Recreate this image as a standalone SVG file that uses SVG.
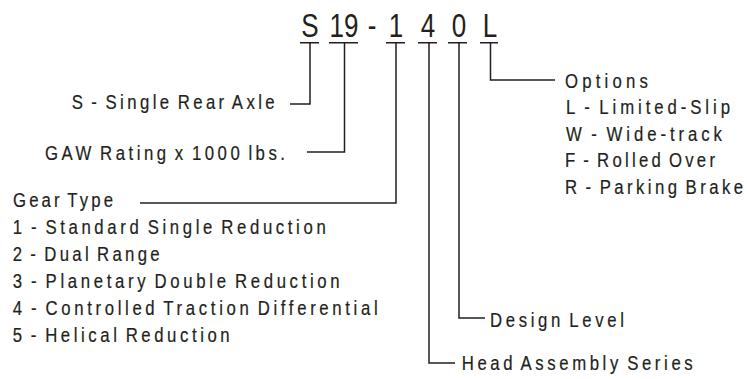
<svg xmlns="http://www.w3.org/2000/svg" width="747" height="379" viewBox="0 0 747 379">
<style>
text{font-family:"Liberation Sans",Arial,sans-serif;fill:#231f20;}
.code{font-size:32.5px;text-anchor:middle;}
.lbl{font-size:19.5px;word-spacing:-3.5px;stroke:#231f20;stroke-width:0.2;}
.ln{fill:none;stroke:#231f20;stroke-width:1.5;}
</style>
<rect width="747" height="379" fill="#fff"/>
<g id="code">
<text class="code" transform="translate(310,36.7) scale(0.8,1)">S</text>
<text class="code" transform="translate(344,36.7) scale(0.8,1)">19</text>
<text class="code" transform="translate(372,36.7) scale(0.8,1)">-</text>
<text class="code" transform="translate(396,36.7) scale(0.8,1)">1</text>
<text class="code" transform="translate(428,36.7) scale(0.8,1)">4</text>
<text class="code" transform="translate(459,36.7) scale(0.8,1)">0</text>
<text class="code" transform="translate(490,36.7) scale(0.8,1)">L</text>
<path class="ln" d="M300,42.7H319M329,42.7H358M386,42.7H405M418,42.7H437M448,42.7H467M480,42.7H498"/>
</g>
<g id="connectors">
<path class="ln" d="M310,42.7V104H290"/>
<path class="ln" d="M344.5,42.7V152H307"/>
<path class="ln" d="M396,42.7V203H140"/>
<path class="ln" d="M429,42.7V363H455"/>
<path class="ln" d="M459,42.7V318H485"/>
<path class="ln" d="M490.5,42.7V80H555"/>
</g>
<g id="axle"><text class="lbl" transform="translate(71.7,109) scale(0.86,1)" textLength="236">S - Single Rear Axle</text></g>
<g id="gaw"><text class="lbl" transform="translate(45,160) scale(0.86,1)" textLength="279.1">GAW Rating x 1000 lbs.</text></g>
<g id="gear">
<text class="lbl" transform="translate(13,207) scale(0.86,1)" textLength="116.3">Gear Type</text>
<text class="lbl" transform="translate(12.7,234) scale(0.86,1)" textLength="364">1 - Standard Single Reduction</text>
<text class="lbl" transform="translate(12.7,261) scale(0.86,1)" textLength="170.9">2 - Dual Range</text>
<text class="lbl" transform="translate(12.7,288) scale(0.86,1)" textLength="380.2">3 - Planetary Double Reduction</text>
<text class="lbl" transform="translate(12.7,315) scale(0.86,1)" textLength="424.4">4 - Controlled Traction Differential</text>
<text class="lbl" transform="translate(12.7,342) scale(0.86,1)" textLength="252.3">5 - Helical Reduction</text>
</g>
<g id="head"><text class="lbl" transform="translate(461.7,370) scale(0.86,1)" textLength="268.6">Head Assembly Series</text></g>
<g id="design"><text class="lbl" transform="translate(490,326.5) scale(0.86,1)" textLength="155.8">Design Level</text></g>
<g id="options">
<text class="lbl" transform="translate(565,88) scale(0.86,1)" textLength="96.5">Options</text>
<text class="lbl" transform="translate(566,114) scale(0.86,1)" textLength="190.7">L - Limited-Slip</text>
<text class="lbl" transform="translate(566,140.5) scale(0.86,1)" textLength="181.4">W - Wide-track</text>
<text class="lbl" transform="translate(565,167) scale(0.86,1)" textLength="174.4">F - Rolled Over</text>
<text class="lbl" transform="translate(565,193.5) scale(0.86,1)" textLength="207">R - Parking Brake</text>
</g>
</svg>
